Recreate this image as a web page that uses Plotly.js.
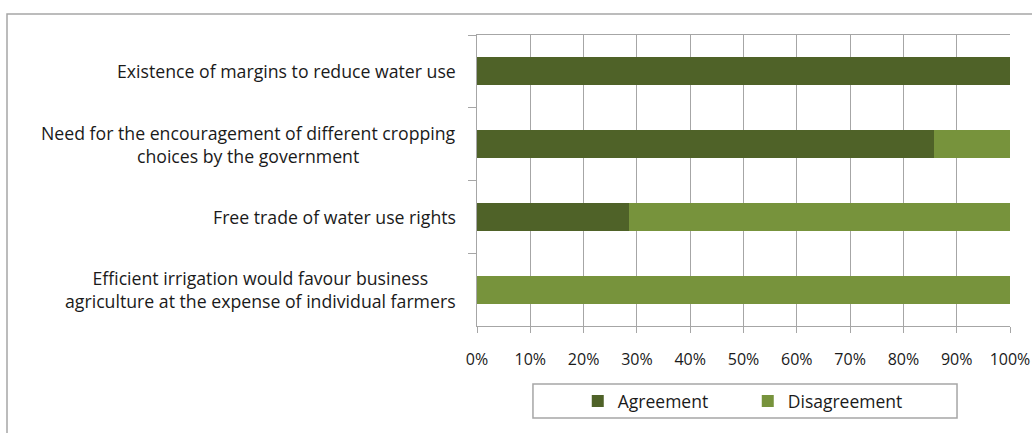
<!DOCTYPE html>
<html>
<head>
<meta charset="utf-8">
<script src="https://cdn.plot.ly/plotly-3.0.1.min.js"></script>
<style>html,body{margin:0;padding:0;background:#fff;}#chart{width:1032px;height:433px;}</style>
</head>
<body>
<div id="chart"></div>
<script>
const categories = [
  "Existence of margins to reduce water use",
  "Need for the encouragement of different cropping<br>choices by the government",
  "Free trade of water use rights",
  "Efficient irrigation would favour business<br>agriculture at the expense of individual farmers"
];
const agreement = [100, 85.7, 28.6, 0];
const disagreement = [0, 14.3, 71.4, 100];
const seriesNames = ["Agreement", "Disagreement"];
const xTickValues = [0, 10, 20, 30, 40, 50, 60, 70, 80, 90, 100];
const xTickLabels = ["0%", "10%", "20%", "30%", "40%", "50%", "60%", "70%", "80%", "90%", "100%"];

const FONT = "'Open Sans', Lato, sans-serif";
const TXT = "#1a1a1a";

const traces = [
  {type: "bar", orientation: "h", name: seriesNames[0], y: categories, x: agreement,
   marker: {color: "#4F6228", line: {width: 0}}, hoverinfo: "x"},
  {type: "bar", orientation: "h", name: seriesNames[1], y: categories, x: disagreement,
   marker: {color: "#77933C", line: {width: 0}}, hoverinfo: "x"}
];

const annotations = categories.map(c => ({
  xref: "paper", yref: "y", x: 0, y: c, text: c,
  xanchor: "right", yanchor: "middle", xshift: -19, align: "center",
  showarrow: false, font: {family: FONT, size: 17.7, color: TXT}
}));

const layout = {
  width: 1032, height: 433,
  margin: {l: 477, r: 22, t: 35, b: 107},
  paper_bgcolor: "#fff", plot_bgcolor: "#fff",
  barmode: "stack", bargap: 0.615,
  showlegend: true,
  legend: {orientation: "h", x: 0.508, xanchor: "center", y: -0.258, yanchor: "middle",
           font: {family: FONT, size: 17.5, color: TXT}, bgcolor: "rgba(0,0,0,0)",
           itemwidth: 30, traceorder: "normal", entrywidth: 125},
  xaxis: {range: [0, 100], tickmode: "array", tickvals: xTickValues, ticktext: xTickLabels,
          showgrid: true, gridcolor: "#a6a6a6", gridwidth: 1,
          showline: true, linecolor: "#a6a6a6", linewidth: 1, mirror: true,
          ticks: "outside", ticklen: 6, tickcolor: "#a6a6a6",
          ticklabelstandoff: 13,
          tickfont: {family: FONT, size: 16, color: TXT}, zeroline: false, fixedrange: true},
  yaxis: {type: "category", autorange: "reversed", showticklabels: false,
          showline: true, linecolor: "#a6a6a6", linewidth: 1,
          ticks: "outside", ticklen: 8, tickcolor: "#a6a6a6", tickson: "boundaries",
          showgrid: false, zeroline: false, fixedrange: true},
  annotations: annotations,
  shapes: [
    {type: "rect", xref: "paper", yref: "paper", x0: 0.105, x1: 0.9006, y0: -0.199, y1: -0.316,
     line: {color: "#a6a6a6", width: 1.5}, fillcolor: "rgba(0,0,0,0)"},
    {type: "rect", xref: "paper", yref: "paper", x0: -0.8818, x1: 1.06, y0: 1.0722, y1: -0.40,
     line: {color: "#a6a6a6", width: 1.5}, fillcolor: "rgba(0,0,0,0)"}
  ]
};

Plotly.newPlot("chart", traces, layout, {displayModeBar: false, staticPlot: true});
</script>
</body>
</html>
